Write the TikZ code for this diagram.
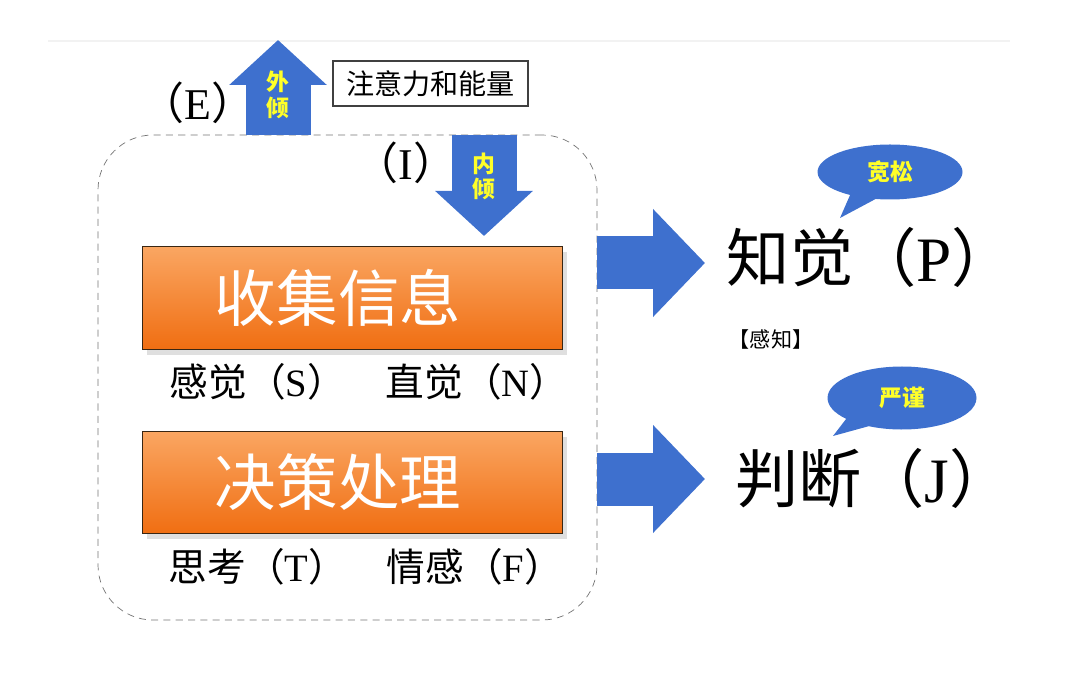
\documentclass[tikz,border=0pt]{standalone}
\usepackage{fontspec}
\setmainfont{Liberation Serif}
\newfontfamily\cjk{Noto Sans CJK SC}
\usepackage{xcolor}
\usepackage{tikz}
\usetikzlibrary{arrows.meta, positioning, shapes.geometric, shapes.callouts, shadows}

\definecolor{mbtiblue}{RGB}{62,112,206}
\definecolor{mbtiyellow}{RGB}{255,255,40}
\definecolor{boxtop}{RGB}{250,166,98}
\definecolor{boxbottom}{RGB}{240,110,18}

\newcommand{\typelabel}[2]{{\cjk #1（}#2{\cjk ）}}

\begin{document}
\begin{tikzpicture}[
    every node/.style={inner sep=0pt},
    frame/.style={rectangle, draw=black!55, dash pattern=on 4pt off 3pt, rounded corners=1.1cm,
                  minimum width=9.98cm, minimum height=9.7cm},
    stage/.style={rectangle, draw=black!70!brown, top color=boxtop, bottom color=boxbottom,
                  minimum width=8.4cm, minimum height=2.05cm, text=white,
                  drop shadow={shadow xshift=3pt, shadow yshift=-3pt, opacity=0.25},
                  font=\cjk\fontsize{35pt}{40pt}\selectfont},
    pole/.style={font=\fontsize{22pt}{26pt}\selectfont},
    result/.style={font=\fontsize{36pt}{42pt}\selectfont},
    tilt/.style={align=center, text=mbtiyellow, font=\cjk\bfseries\fontsize{13pt}{14.5pt}\selectfont},
    talk/.style={ellipse callout, fill=mbtiblue, callout pointer arc=22, text=mbtiyellow,
                 font=\cjk\bfseries\fontsize{13pt}{15pt}\selectfont},
    fatup/.style={draw=mbtiblue, line width=1.3cm, -{Triangle[length=0.9cm, width=1.9cm]}},
    fatright/.style={draw=mbtiblue, line width=1.06cm, -{Triangle[length=1.04cm, width=2.1cm]}}
  ]

  \useasboundingbox (0,0) rectangle (21.6,13.68);
  \draw[black!5, line width=0.6pt] (0.96,12.86) -- (20.2,12.86);

  \node[frame] (frame) at (6.95,6.13) {};

  \node[stage] (gather) at (7.04,7.72) {收集信息\kern0.56cm};
  \node[stage] (decide) at (7.04,4.03) {决策处理\kern0.56cm};

  \node[pole] (sensing) at (5.16,6.04) {\typelabel{感觉}{S}};
  \node[pole] (intuition) at (9.54,6.04) {\typelabel{直觉}{N}};
  \node[pole] (thinking) at (5.16,2.34) {\typelabel{思考}{T}};
  \node[pole] (feeling) at (9.5,2.34) {\typelabel{情感}{F}};

  \node[font=\fontsize{25pt}{29pt}\selectfont] (extra) at (3.96,11.62) {{\cjk （}E{\cjk ）}};
  \node[font=\fontsize{25pt}{29pt}\selectfont] (intro) at (8.12,10.42) {{\cjk （}I{\cjk ）}};
  \node[draw=black!75, line width=0.9pt, minimum width=3.9cm, minimum height=0.9cm,
        font=\cjk\fontsize{16pt}{18pt}\selectfont] (energy) at (8.61,12.01) {注意力和能量};

  \coordinate (eout) at (5.56,12.88);
  \coordinate (iin) at (9.68,8.96);
  \draw[fatup] (frame.north -| eout) -- node[pos=0.42, tilt] {外\\倾} (eout);
  \draw[fatup] (frame.north -| iin) -- node[pos=0.41, tilt] {内\\倾} (iin);

  \node[result] (percept) at (17.42,8.54) {\typelabel{知觉}{P}};
  \node[result] (judge) at (17.48,4.12) {\typelabel{判断}{J}};
  \node[font=\cjk\fontsize{12pt}{14pt}\selectfont] (note) at (15.42,6.9) {【感知】};

  \coordinate (ptip) at (14.1,8.42);
  \coordinate (jtip) at (14.1,4.1);
  \draw[fatright] (frame.east |- ptip) -- (ptip);
  \draw[fatright] (frame.east |- jtip) -- (jtip);

  \node[talk, minimum width=2.9cm, minimum height=1.1cm,
        callout absolute pointer={(16.8,9.32)}] (loose) at (17.8,10.24) {宽松};
  \node[talk, minimum width=2.98cm, minimum height=1.26cm,
        callout absolute pointer={(16.66,4.96)}] (strict) at (18.04,5.72) {严谨};

\end{tikzpicture}
\end{document}
